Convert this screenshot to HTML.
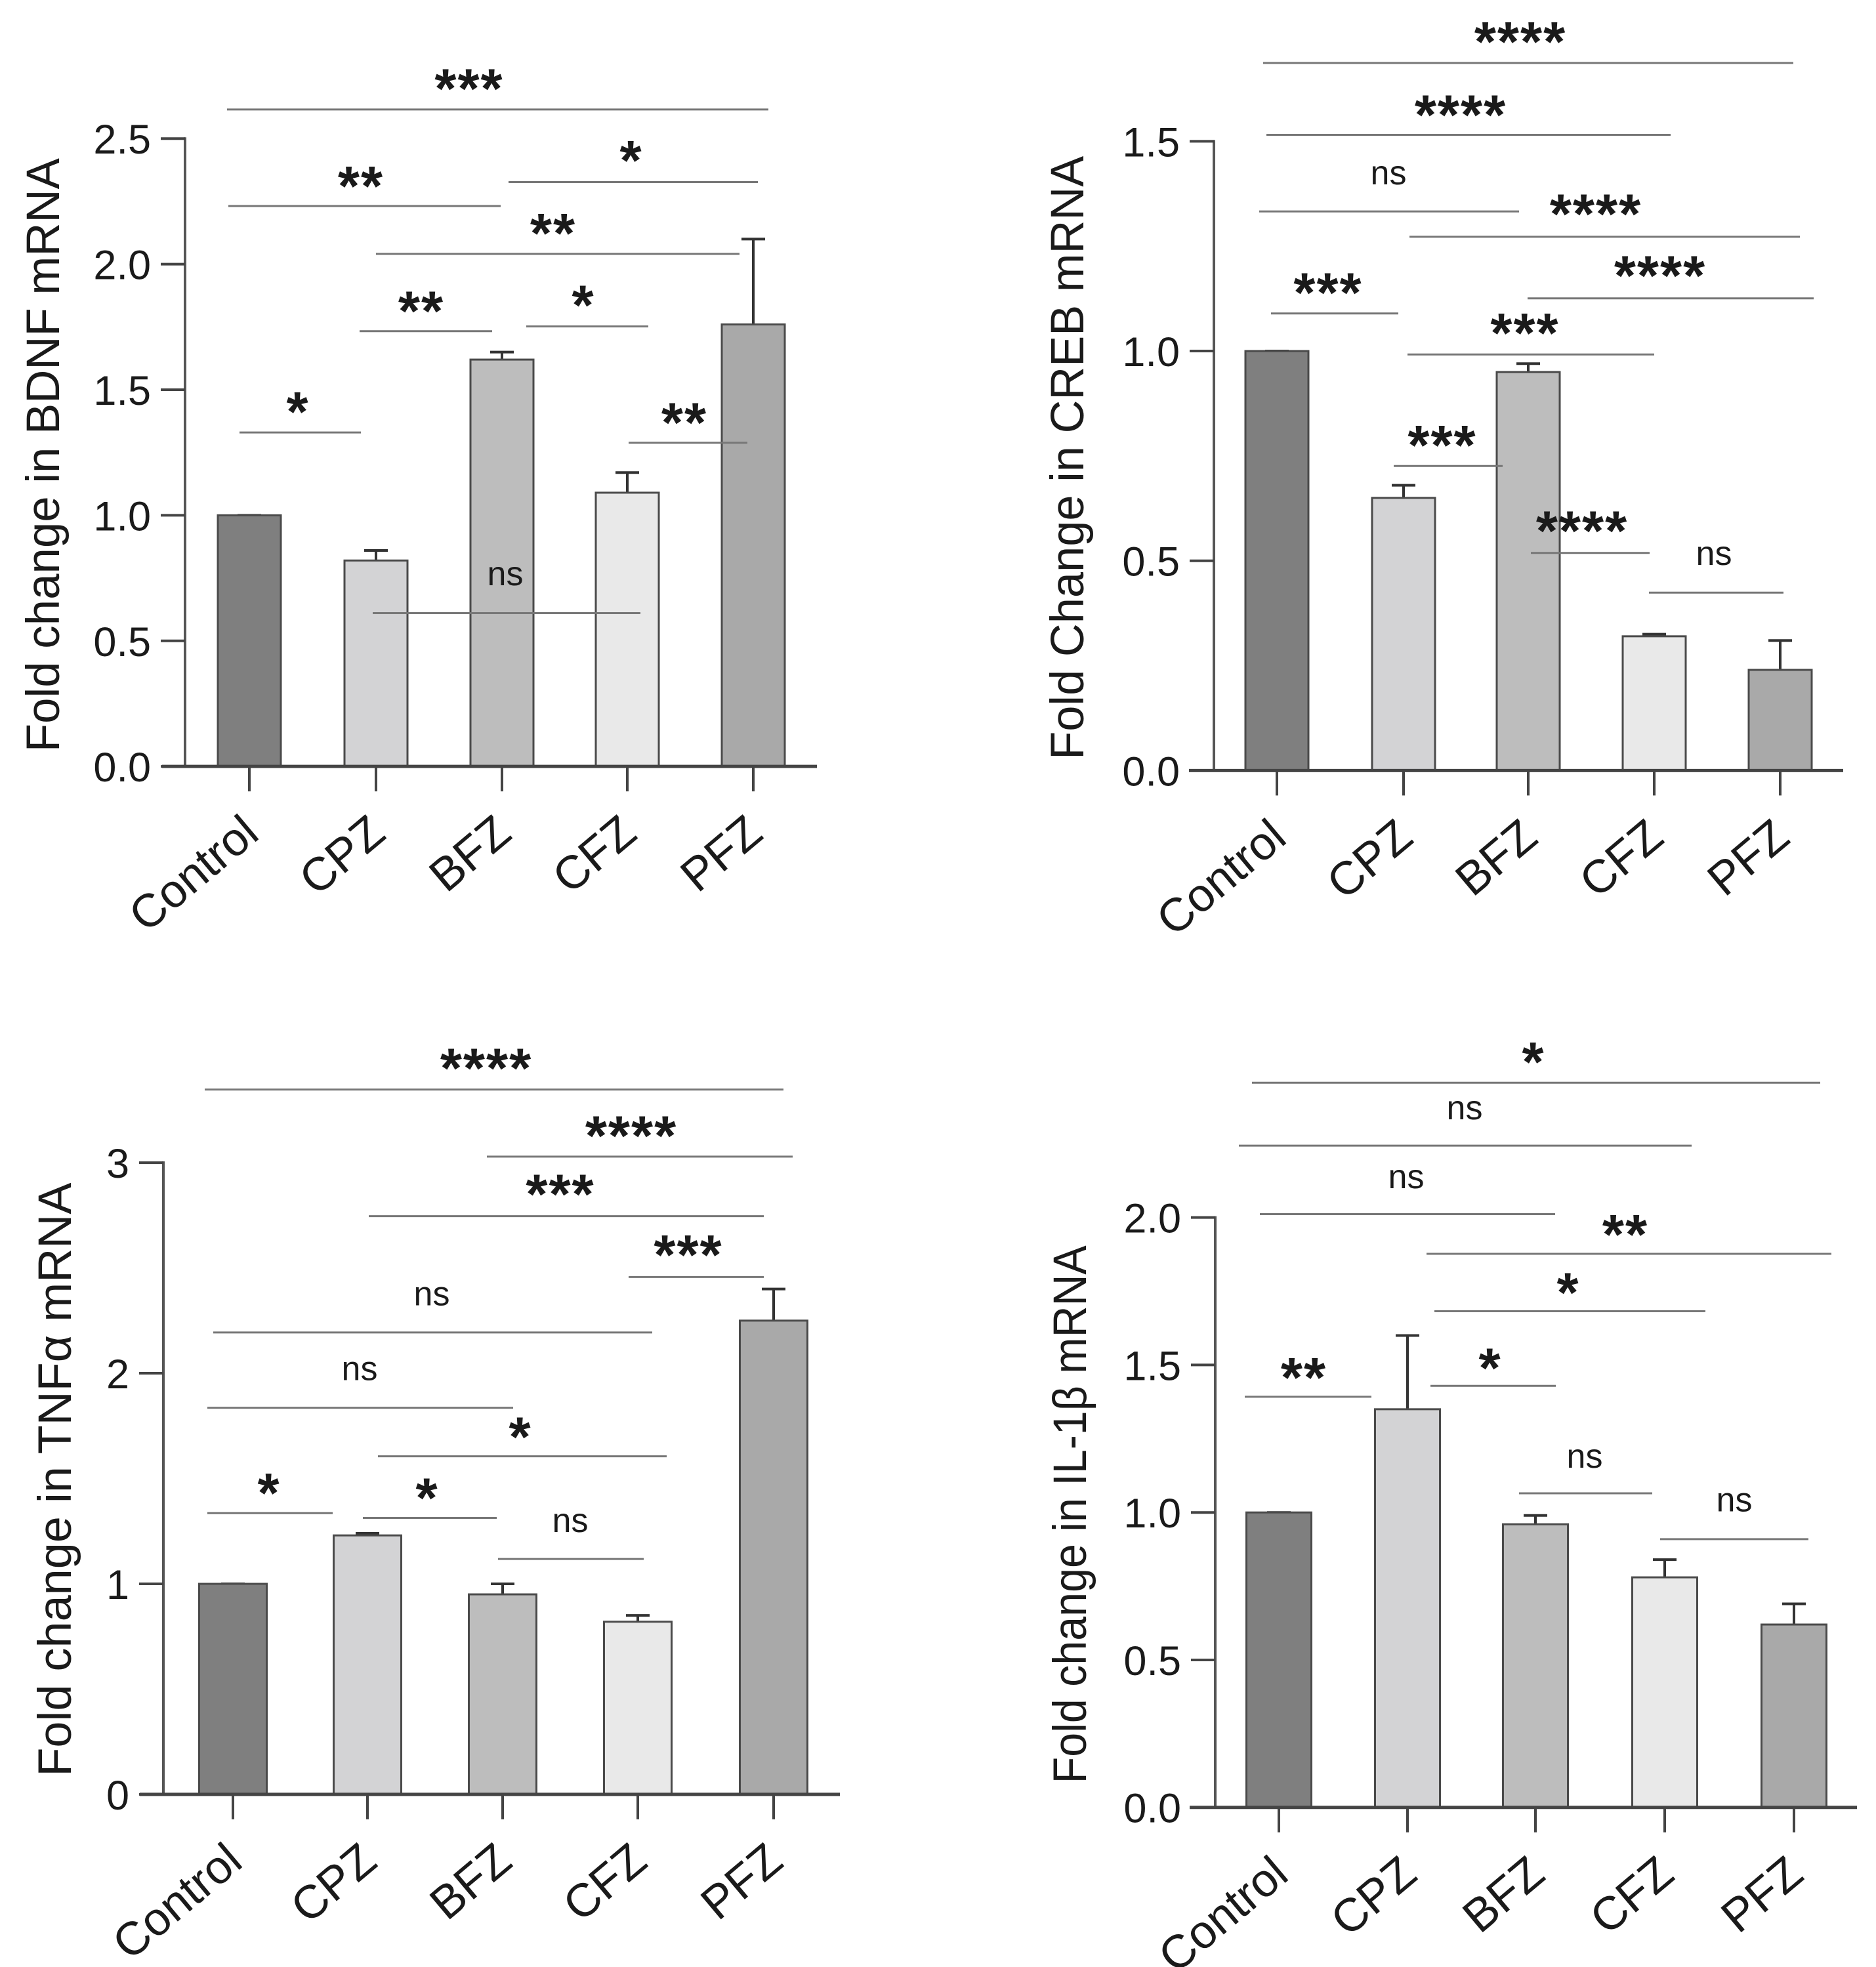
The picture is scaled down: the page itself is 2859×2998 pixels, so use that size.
<!DOCTYPE html>
<html><head><meta charset="utf-8"><style>
html,body{margin:0;padding:0;background:#fff}
svg{display:block}
text{font-family:"Liberation Sans","DejaVu Sans",sans-serif;fill:#1a1a1a}
</style></head><body>
<svg id="fig" width="2859" height="2998" viewBox="0 0 2859 2998" xmlns="http://www.w3.org/2000/svg"></svg>
<script>
const categories = ["Control","CPZ","BFZ","CFZ","PFZ"];
const barColors = ["#7f7f7f","#d3d3d5","#bdbdbd","#e9e9e9","#a9a9a9"];

const bdnfValues = [1.0, 0.82, 1.62, 1.09, 1.76];
const bdnfErrors = [1.0, 0.86, 1.65, 1.17, 2.10];
const bdnfTicks = ["0.0","0.5","1.0","1.5","2.0","2.5"];
const bdnfTickValues = [0,0.5,1,1.5,2,2.5];

const crebValues = [1.0, 0.65, 0.95, 0.32, 0.24];
const crebErrors = [1.0, 0.68, 0.97, 0.325, 0.31];
const crebTicks = ["0.0","0.5","1.0","1.5"];
const crebTickValues = [0,0.5,1,1.5];

const tnfValues = [1.0, 1.23, 0.95, 0.82, 2.25];
const tnfErrors = [1.0, 1.24, 1.00, 0.85, 2.40];
const tnfTicks = ["0","1","2","3"];
const tnfTickValues = [0,1,2,3];

const il1bValues = [1.0, 1.35, 0.96, 0.78, 0.62];
const il1bErrors = [1.0, 1.60, 0.99, 0.84, 0.69];
const il1bTicks = ["0.0","0.5","1.0","1.5","2.0"];
const il1bTickValues = [0,0.5,1,1.5,2];

const NS="http://www.w3.org/2000/svg";
const svg=document.getElementById('fig');
function mk(tag,attrs,parent){const e=document.createElementNS(NS,tag);for(const k in attrs)e.setAttribute(k,attrs[k]);(parent||svg).appendChild(e);return e;}
const K=1.043;

const panels=[
 {id:'bdnf',oy:0,title:'Fold change in BDNF mRNA',vals:bdnfValues,errs:bdnfErrors,ticks:bdnfTicks,tv:bdnfTickValues,
  ax:282,y0:1120,perUnit:367,xl:247,xr:1245,cx:[380,573,765,956,1148],bw:96,tx:90,ty:665,tlen:905,
  sig:[[160,346,1171,'***',715,110],[301,348,763,'**',550,252],[266,775,1155,'*',962,215],[371,573,1127,'**',843,321],
       [484,548,750,'**',642,435],[477,802,988,'*',889,426],[632,365,550,'*',454,582],[647,958,1139,'**',1043,598],[896,568,976,'ns',770,841]]},
 {id:'creb',oy:0,title:'Fold Change in CREB mRNA',vals:crebValues,errs:crebErrors,ticks:crebTicks,tv:crebTickValues,
  ax:1850,y0:1126,perUnit:613,xl:1812,xr:2809,cx:[1946,2139,2329,2521,2713],bw:96,tx:1651,ty:669,tlen:920,
  sig:[[92,1925,2733,'****',2317,41],[197,1930,2546,'****',2226,148],[309,1919,2315,'ns',2116,255],[346,2148,2743,'****',2432,293],
       [436,2328,2764,'****',2530,383],[458,1937,2131,'***',2024,408],[518,2145,2521,'***',2324,467],[681,2124,2290,'***',2198,631],
       [808,2333,2514,'****',2411,756],[866,2513,2718,'ns',2612,811]]},
 {id:'tnf',oy:1500,title:'Fold change in TNFα mRNA',vals:tnfValues,errs:tnfErrors,ticks:tnfTicks,tv:tnfTickValues,
  ax:249,y0:2684,perUnit:307.7,xl:213,xr:1280,cx:[355,560,766,972,1179],bw:103,tx:108,ty:2224,tlen:905,
  sig:[[1654,312,1194,'****',741,1603],[1752,742,1208,'****',962,1702],[1839,562,1164,'***',854,1787],[1928,958,1164,'***',1049,1876],
       [2009,325,994,'ns',658,1955],[2119,316,782,'ns',548,2064],[2190,576,1016,'*',793,2142],[2273,316,507,'*',410,2224],
       [2280,553,757,'*',651,2231],[2340,759,981,'ns',869,2286]]},
 {id:'il1b',oy:1500,title:'Fold change in IL-1β mRNA',vals:il1bValues,errs:il1bErrors,ticks:il1bTicks,tv:il1bTickValues,
  ax:1852,y0:2703,perUnit:431,xl:1813,xr:2830,cx:[1949,2145,2340,2537,2734],bw:99,tx:1655,ty:2275,tlen:820,
  sig:[[1644,1908,2774,'*',2337,1594],[1736,1888,2578,'ns',2232,1683],[1836,1920,2370,'ns',2143,1784],[1894,2174,2791,'**',2477,1846],
       [1978,2186,2599,'*',2390,1931],[2103,1897,2090,'**',1987,2055],[2087,2180,2371,'*',2271,2041],[2244,2315,2518,'ns',2415,2192],
       [2311,2530,2756,'ns',2643,2256]]}
];

panels.forEach(p=>{
  const Y=v=>p.oy+(v-p.oy)*K;
  const g=mk('g',{});
  
  
  const y0=Y(p.y0), pu=p.perUnit*K;
  const y=v=>y0-v*pu;
  const top=y(p.tv[p.tv.length-1]);
  p.vals.forEach((v,i)=>{
    const eb=mk('path',{d:`M${p.cx[i]} ${y(v)}V${y(p.errs[i])}M${p.cx[i]-18} ${y(p.errs[i])}H${p.cx[i]+18}`,stroke:'#333','stroke-width':4,fill:'none'},g);
    
    
    const r=mk('rect',{x:p.cx[i]-p.bw/2,y:y(v),width:p.bw,height:y0-y(v),fill:barColors[i],stroke:'#4a4a4a','stroke-width':3},g);
    
    
  });
  const ya=mk('line',{x1:p.ax,y1:top-2,x2:p.ax,y2:y0,stroke:'#555','stroke-width':4},g);
  
  
  const xa=mk('line',{x1:p.xl,y1:y0,x2:p.xr,y2:y0,stroke:'#444','stroke-width':5},g);
  
  
  p.tv.forEach((tv,i)=>{
    mk('line',{x1:p.ax-37,y1:y(tv),x2:p.ax,y2:y(tv),stroke:'#444','stroke-width':4},g);
    const t=mk('text',{x:p.ax-52,y:y(tv)+23,'text-anchor':'end','font-size':63},g);
    t.textContent=p.ticks[i];
    
    
  });
  categories.forEach((c,i)=>{
    mk('line',{x1:p.cx[i],y1:y0,x2:p.cx[i],y2:y0+38,stroke:'#444','stroke-width':4},g);
    const ex=p.cx[i]+18, ey=y0+108;
    const t=mk('text',{x:ex,y:ey,'text-anchor':'end','font-size':71,transform:`rotate(-40 ${ex} ${ey})`},g);
    t.textContent=c;
    
    
  });
  const ty=Y(p.ty);
  const tt=mk('text',{x:p.tx,y:ty,'text-anchor':'middle','font-size':71,textLength:p.tlen,lengthAdjust:'spacingAndGlyphs',transform:`rotate(-90 ${p.tx} ${ty})`},g);
  tt.textContent=p.title;
  
  
  p.sig.forEach(s=>{
    const ly=Y(s[0]), cy=Y(s[5]);
    const l=mk('line',{x1:s[1],y1:ly,x2:s[2],y2:ly,stroke:'#777','stroke-width':3},g);
    
    
    const isNs=s[3]==='ns';
    const t=mk('text',{x:s[4],y:isNs?cy+15:cy+50,'text-anchor':'middle','font-size':isNs?52:85,'font-weight':isNs?'normal':'bold','letter-spacing':isNs?0:2},g);
    t.textContent=s[3];
    
    
  });
});
</script>
</body></html>
